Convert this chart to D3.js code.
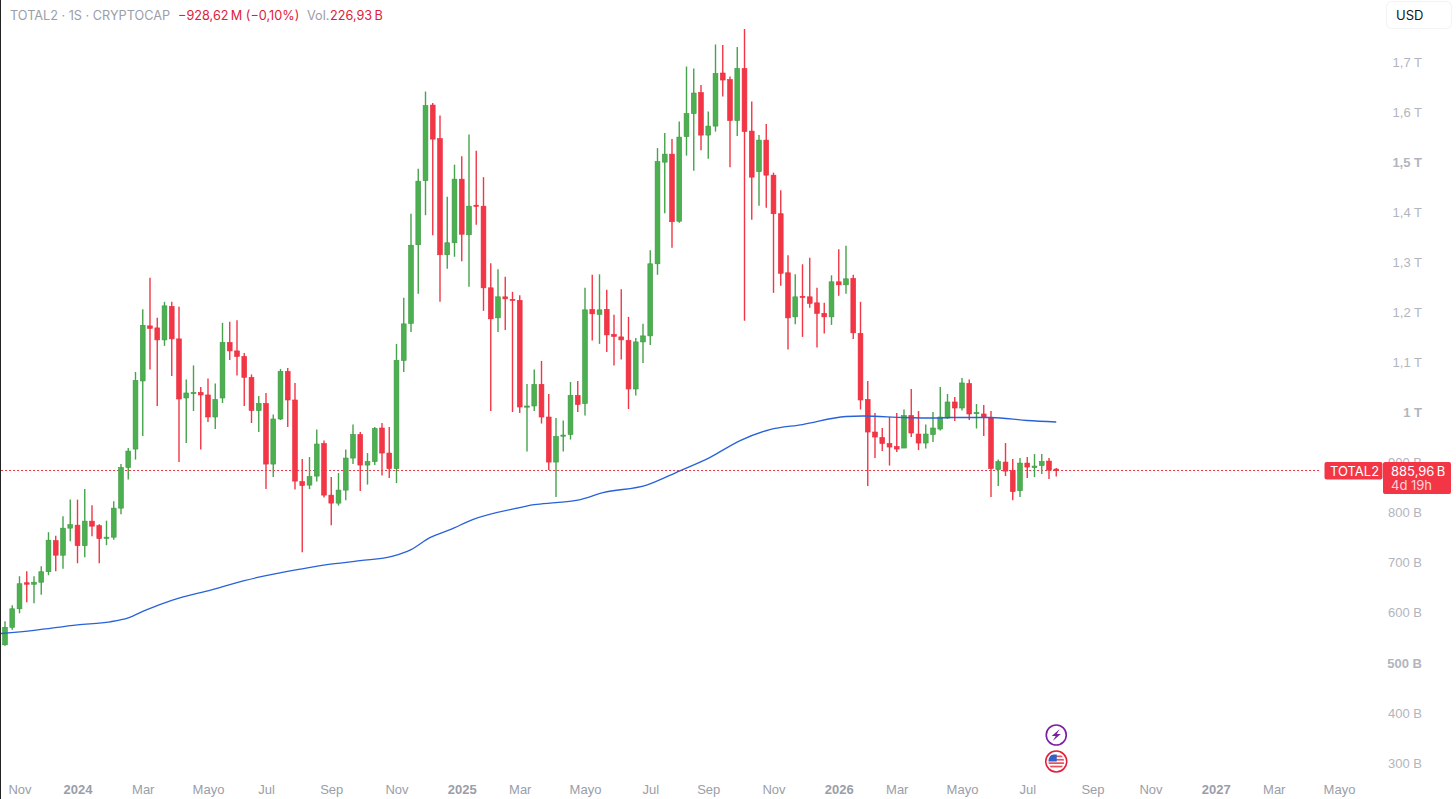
<!DOCTYPE html>
<meta charset="utf-8">
<style>
html, body { margin: 0; padding: 0; background: #fff; overflow: hidden; }
svg { display: block; font-family: Inter, "Noto Sans", Arial, sans-serif; }
.axis path, .axis line { display: none; }
.yaxis text { fill: #b2b5be; font-size: 13px; text-anchor: end; }
.xaxis text { fill: #9a9ea8; font-size: 13px; }
.strong { font-weight: 700; }
</style>
<body>
<svg id="chart" width="1456" height="799"></svg>
<script src="https://d3js.org/d3.v7.min.js"></script>
<script>
// weekly candles, values in billions (B)
var opens = [
536,571,608,660,657,661,682,744,715,769,
775,734,783,774,749,751,809,890,927,1063,
1173,1169,1145,1212,1147,1029,1038,1040,1035,991,
1029,1140,1123,1112,1070,1004,1018,897,987,1082,
1025,862,855,873,938,835,819,845,909,956,
895,902,969,919,888,1104,1178,1335,1463,1614,
1547,1315,1339,1466,1355,1414,1412,1249,1189,1231,
1226,1224,1011,1013,1056,991,901,953,956,1034,
1018,1206,1196,1206,1156,1151,1144,1047,1141,1153,
1297,1500,1516,1382,1551,1597,1639,1554,1572,1678,
1665,1583,1687,1562,1481,1544,1474,1397,1279,1191,
1232,1231,1219,1198,1191,1261,1255,1268,1158,1026,
961,950,938,932,929,994,957,939,956,967,
989,1021,1009,1058,998,997,989,886,901,884,
844,899,890,894,903,887];
var highs = [
583,615,673,683,673,693,761,754,793,826,
826,847,815,777,784,823,897,929,1081,1206,
1269,1189,1221,1221,1211,1066,1094,1051,1068,1058,
1179,1181,1184,1119,1076,1033,1039,996,1087,1089,
1059,907,911,966,944,871,879,926,976,961,
919,971,979,971,1137,1229,1397,1487,1641,1618,
1593,1431,1495,1512,1555,1523,1470,1298,1286,1271,
1241,1234,1057,1086,1103,1037,989,984,1061,1063,
1249,1275,1276,1245,1195,1246,1191,1149,1177,1324,
1528,1558,1546,1581,1691,1687,1654,1601,1735,1734,
1671,1730,1766,1621,1554,1576,1479,1444,1314,1276,
1296,1309,1249,1219,1274,1326,1333,1275,1221,1063,
999,969,991,999,1006,1047,1003,976,1001,1051,
1037,1031,1069,1066,1017,1015,1003,906,939,907,
909,911,917,917,909,889];
var lows = [
534,566,599,621,619,636,675,683,688,743,
699,711,753,699,735,746,797,866,906,953,
1086,1013,1133,1073,901,939,1003,926,981,967,
1019,1105,1074,1013,979,961,847,871,985,971,
846,721,847,862,830,775,814,825,897,843,
856,895,874,869,859,1081,1161,1237,1394,1354,
1221,1287,1311,1302,1251,1375,1203,1003,1161,1165,
1001,999,922,1003,978,885,831,922,946,1001,
994,1144,1137,1121,1094,1106,1007,1034,1099,1135,
1275,1398,1329,1379,1513,1483,1524,1507,1561,1631,
1490,1552,1183,1385,1413,1409,1239,1253,1126,1176,
1151,1209,1130,1158,1175,1233,1237,1147,1006,853,
909,923,894,921,929,951,925,928,941,964,
987,983,1004,985,968,953,831,853,873,825,
831,869,871,877,867,872];
var closes = [
571,608,658,657,661,682,745,715,769,776,
734,783,773,748,751,809,890,923,1064,1174,
1168,1145,1213,1147,1027,1039,1040,1035,991,1026,
1140,1123,1112,1070,1004,1018,897,987,1082,1025,
863,854,872,937,835,819,845,909,956,895,
902,968,919,888,1104,1177,1334,1462,1613,1546,
1315,1339,1466,1356,1412,1413,1249,1187,1231,1227,
1224,1011,1013,1056,991,901,952,955,1034,1016,
1205,1197,1205,1155,1152,1145,1047,1141,1153,1297,
1501,1516,1381,1550,1597,1638,1554,1572,1677,1664,
1583,1687,1561,1470,1544,1474,1397,1278,1189,1231,
1230,1218,1198,1191,1261,1255,1267,1159,1025,961,
951,938,931,927,994,959,939,957,969,991,
1021,1009,1059,997,1000,990,888,902,883,842,
899,891,893,902,885,884];

// moving average, read at some weeks only
var maWeeks = [-1,4,10,14.5,17,19.5,23,28.5,33,35,40.7,44.4,49,53.5,56,58.6,61.4,64.5,71,73,76,79,82.5,88.5,93,97.2,101.4,105.5,110,116,118.4,124,128.5,130.4,136,141,145];
var maValues = [558,565,576,582,590,606,625,646,664,671,687,696,704,713,726,750,766,786,810,816,820,825,840,855,883,910,944,966,976,992,993,990,989,990,990,984,981];

var xWeeks = [2,10,19,28,36,45,54,63,71,80,89,97,106,115,123,132,141,150,158,167,175,184];
var xLabels = ["Nov","2024","Mar","Mayo","Jul","Sep","Nov","2025","Mar","Mayo","Jul","Sep","Nov","2026","Mar","Mayo","Jul","Sep","Nov","2027","Mar","Mayo"];
var yTicks = [300,400,500,600,700,800,900,1000,1100,1200,1300,1400,1500,1600,1700];
var yLabels = ["300 B","400 B","500 B","600 B","700 B","800 B","900 B","1 T","1,1 T","1,2 T","1,3 T","1,4 T","1,5 T","1,6 T","1,7 T"];
var strongY = ["500 B","1 T","1,5 T"];
var lastPrice = 885.96;

var red = "#f23645", green = "#4caf50";

var svg = d3.select("#chart");
var x = d3.scaleLinear().domain([0, 184]).range([5, 1339]);
var y = d3.scaleLinear().domain([300, 1700]).range([763, 62]);

svg.append("clipPath").attr("id", "plot").append("rect")
  .attr("x", 1).attr("y", 0).attr("width", 1320).attr("height", 799);

// axes
var yAxis = d3.axisRight(y).tickValues(yTicks).tickSize(0).tickPadding(0)
  .tickFormat(function(d) { return yLabels[yTicks.indexOf(d)]; });
svg.append("g").attr("class", "axis yaxis").attr("transform", "translate(1422,0)").call(yAxis);
svg.selectAll(".yaxis text").classed("strong", function(d) { return strongY.indexOf(yLabels[yTicks.indexOf(d)]) >= 0; });

var xAxis = d3.axisBottom(x).tickValues(xWeeks).tickSize(0).tickPadding(0)
  .tickFormat(function(d) { return xLabels[xWeeks.indexOf(d)]; });
svg.append("g").attr("class", "axis xaxis").attr("transform", "translate(0,785)").call(xAxis);
svg.selectAll(".xaxis text").classed("strong", function(d) { return /^\d+$/.test(xLabels[xWeeks.indexOf(d)]); });

var plot = svg.append("g").attr("clip-path", "url(#plot)");

// price line
plot.append("line")
  .attr("x1", 1).attr("x2", 1325).attr("y1", 470.5).attr("y2", 470.5)
  .attr("stroke", red).attr("stroke-width", 1).attr("stroke-dasharray", "2 2");

// candles
var candle = plot.selectAll(".candle").data(d3.range(opens.length)).enter().append("g").attr("class", "candle");
candle.append("line")
  .attr("x1", function(i) { return x(i); })
  .attr("x2", function(i) { return x(i); })
  .attr("y1", function(i) { return y(highs[i]); })
  .attr("y2", function(i) { return y(lows[i]); })
  .attr("stroke", function(i) { return closes[i] >= opens[i] ? "#46a34b" : red; })
  .attr("stroke-width", 1.4);
candle.append("rect")
  .attr("x", function(i) { return x(i) - 2.4; })
  .attr("width", 4.8)
  .attr("y", function(i) { return y(Math.max(opens[i], closes[i])); })
  .attr("height", function(i) { return Math.max(1.2, Math.abs(y(opens[i]) - y(closes[i]))); })
  .attr("fill", function(i) { return closes[i] >= opens[i] ? green : red; })
  .attr("stroke", function(i) { return closes[i] >= opens[i] ? "#3f9a44" : "#e92e3f"; })
  .attr("stroke-width", 0.6);

// moving average
var line = d3.line().x(function(d, i) { return x(maWeeks[i]); }).y(function(d) { return y(d); }).curve(d3.curveMonotoneX);
plot.append("path").datum(maValues).attr("d", line)
  .attr("fill", "none").attr("stroke", "#2962d8").attr("stroke-width", 1.3);

// left edge
svg.append("rect").attr("x", 0).attr("y", 0).attr("width", 1).attr("height", 799).attr("fill", "#222");

// header
var head = svg.append("text").attr("x", 10).attr("y", 20).attr("font-size", 12.7);
head.append("tspan").attr("fill", "#9a9ea8").text("TOTAL2 · 1S · CRYPTOCAP");
head.append("tspan").attr("x", 178).attr("fill", "#e0203c").text("−928,62\u2009M (−0,10%)");
head.append("tspan").attr("x", 307).attr("fill", "#9a9ea8").text("Vol.");
head.append("tspan").attr("x", 330).attr("fill", "#e0203c").text("226,93\u2009B");

// currency button
svg.append("rect").attr("x", 1386.5).attr("y", 1.5).attr("width", 65).attr("height", 27).attr("rx", 5)
  .attr("fill", "#fff").attr("stroke", "#f2f3f5");
svg.append("text").attr("x", 1396).attr("y", 20).attr("font-size", 13).attr("fill", "#131722").text("USD");

// last price labels
svg.append("rect").attr("x", 1324.5).attr("y", 462).attr("width", 58).attr("height", 17.5).attr("rx", 2).attr("fill", red);
svg.append("text").attr("x", 1330).attr("y", 475.5).attr("font-size", 13).attr("fill", "#fff").text("TOTAL2");
svg.append("rect").attr("x", 1383).attr("y", 462).attr("width", 68).attr("height", 32).attr("rx", 2).attr("fill", red);
svg.append("text").attr("x", 1391).attr("y", 475.5).attr("font-size", 13).attr("fill", "#fff").text("885,96\u2009B");
svg.append("text").attr("x", 1391).attr("y", 490).attr("font-size", 13).attr("fill", "#fff").attr("fill-opacity", 0.8).text("4d 19h");

// event icons under the last candle
var ix = x(145);
var bolt = svg.append("g").attr("transform", "translate(" + ix + ",735)");
bolt.append("circle").attr("r", 10).attr("fill", "#fff").attr("stroke", "#7b1fa2").attr("stroke-width", 1.6);
bolt.append("path").attr("d", "M3.5,-6 L-4.5,1 L-0.5,1 L-3.5,6 L4.5,-1 L0.5,-1 Z").attr("fill", "#7b1fa2");

var flag = svg.append("g").attr("transform", "translate(" + ix + ",761.5)");
flag.append("circle").attr("r", 10.5).attr("fill", "#fff").attr("stroke", "#e0203c").attr("stroke-width", 1.6);
flag.append("clipPath").attr("id", "flagclip").append("circle").attr("r", 8);
var fg = flag.append("g").attr("clip-path", "url(#flagclip)");
d3.range(4).forEach(function(k) {
  fg.append("rect").attr("x", -8).attr("y", -6 + k * 3.4).attr("width", 16).attr("height", 1.7).attr("fill", "#e8505f");
});
fg.append("rect").attr("x", -8).attr("y", -7).attr("width", 8.5).attr("height", 7).attr("fill", "#2f62c9");
</script>
</body>
